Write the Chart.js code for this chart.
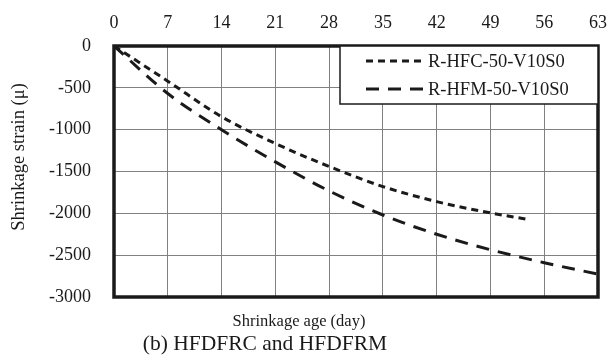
<!DOCTYPE html>
<html>
<head>
<meta charset="utf-8">
<script src="https://cdn.jsdelivr.net/npm/chart.js@4"></script>
<style>
  html, body { margin: 0; padding: 0; background: #fff; }
  #wrap { width: 608px; height: 358px; }
</style>
</head>
<body>
<div id="wrap"><canvas id="chart" width="608" height="358"></canvas></div>
<script>
const hfcDays = [0, 7, 14, 21, 28, 35, 42, 49, 54]
const hfcStrain = [0, -420, -845, -1165, -1440, -1680, -1860, -1995, -2075]
const hfmDays = [0, 7, 14, 21, 28, 35, 42, 49, 56, 63]
const hfmStrain = [0, -568, -1000, -1385, -1732, -2020, -2250, -2435, -2590, -2727]
const seriesNames = ["R-HFC-50-V10S0", "R-HFM-50-V10S0"]

const ctx = document.querySelector("#chart")
const serif = "'Liberation Serif', 'Times New Roman', serif"
Chart.defaults.font.family = serif
Chart.defaults.color = "#1a1a1a"

const toPoints = (xs, ys) => xs.map((x, i) => ({x: x, y: ys[i]}))

// thick frame, legend box, axis titles and caption
const decorations = {
    id: "decorations",
    afterDatasetsDraw(chart) {
        const {ctx: c, chartArea: a} = chart
        c.save()
        c.strokeStyle = "#1a1a1a"
        c.lineWidth = 3.5
        c.strokeRect(a.left, a.top, a.right - a.left, a.bottom - a.top)

        // legend
        const bx = 340, by = a.top, bw = a.right - bx, bh = 58
        c.fillStyle = "#fff"
        c.fillRect(bx, by, bw, bh)
        c.lineWidth = 1.5
        c.strokeRect(bx, by, bw, bh)
        c.font = "18.5px " + serif
        c.textBaseline = "middle"
        c.textAlign = "left"
        chart.data.datasets.forEach((ds, i) => {
            const y = by + 15 + i * 28
            c.setLineDash(ds.borderDash)
            c.lineWidth = ds.borderWidth
            c.strokeStyle = ds.borderColor
            c.beginPath()
            c.moveTo(366, y)
            c.lineTo(423, y)
            c.stroke()
            c.setLineDash([])
            c.fillStyle = "#1a1a1a"
            c.fillText(ds.label, 428, y + 1)
        })

        c.textAlign = "center"
        c.font = "16.5px " + serif
        c.fillText("Shrinkage age (day)", 299, 322)
        c.font = "21.5px " + serif
        c.fillText("(b) HFDFRC and HFDFRM", 265, 344)

        c.translate(19, 157)
        c.rotate(-Math.PI / 2)
        c.font = "18.5px " + serif
        c.fillText("Shrinkage strain (μ)", 0, 0)
        c.restore()
    }
}

new Chart(ctx, {
    type: "line",
    data: {
        datasets: [{
            label: seriesNames[0],
            data: toPoints(hfcDays, hfcStrain),
            borderColor: "#1a1a1a",
            borderWidth: 3,
            borderDash: [7, 5],
            pointRadius: 0,
            cubicInterpolationMode: "monotone",
            fill: false,
        }, {
            label: seriesNames[1],
            data: toPoints(hfmDays, hfmStrain),
            borderColor: "#1a1a1a",
            borderWidth: 3,
            borderDash: [13, 9],
            pointRadius: 0,
            cubicInterpolationMode: "monotone",
            fill: false,
        }]
    },
    options: {
        responsive: false,
        animation: false,
        layout: {padding: {left: 0, right: 10, top: 0, bottom: 61}},
        scales: {
            x: {
                type: "linear",
                position: "top",
                min: 0,
                max: 63,
                ticks: {stepSize: 7, padding: 12, font: {size: 18}, color: "#1a1a1a"},
                grid: {color: "#808080", lineWidth: 1, drawTicks: false},
                border: {display: false},
                afterFit: (scale) => {
                    scale.height = 46
                    scale.paddingLeft = 0
                    scale.paddingRight = 0
                }
            },
            y: {
                min: -3000,
                max: 0,
                ticks: {
                    stepSize: 500,
                    padding: 23,
                    font: {size: 18},
                    color: "#1a1a1a",
                    callback: (value) => `${value}`
                },
                grid: {color: "#808080", lineWidth: 1, drawTicks: false},
                border: {display: false},
                afterFit: (scale) => {
                    scale.width = 114
                    scale.paddingTop = 0
                    scale.paddingBottom = 0
                }
            }
        },
        plugins: {
            legend: {display: false},
            tooltip: {enabled: false}
        }
    },
    plugins: [decorations]
})
</script>
</body>
</html>
